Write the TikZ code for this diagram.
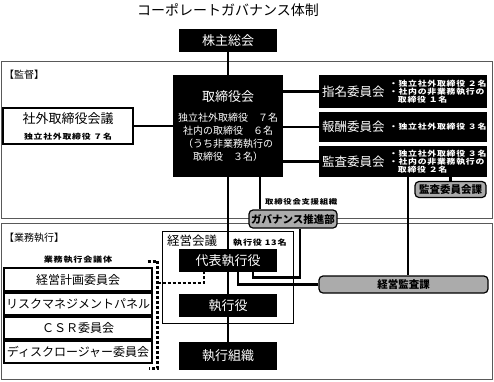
\documentclass[tikz,border=0pt]{standalone}
\usepackage{fontspec}
\setmainfont{Noto Sans CJK JP}
\newfontfamily\widejp[FakeStretch=1.2, LetterSpace=10]{Noto Sans CJK JP}
\usetikzlibrary{positioning}

\begin{document}
\begin{tikzpicture}[x=1pt, y=-1pt,
        blk/.style={rectangle, fill=black, text=white, inner sep=0pt,
            minimum width=98pt, minimum height=23pt,
            font=\fontsize{13}{15}\selectfont},
        wbox/.style={rectangle, draw=black, line width=1.2pt, fill=white,
            inner sep=0pt, minimum width=148pt, minimum height=22pt,
            font=\fontsize{12}{14}\selectfont},
        gbox/.style={rectangle, draw=black, line width=1.2pt, fill=black!33,
            rounded corners=4pt, inner sep=0pt, minimum height=17pt,
            font=\fontsize{10.5}{12}\selectfont\bfseries},
        cmte/.style={rectangle, fill=black, inner sep=0pt, minimum width=168pt},
        cname/.style={anchor=west, text=white, inner sep=0pt,
            font=\fontsize{12.5}{14}\selectfont},
        note/.style={inner sep=0pt, align=left,
            font=\widejp\bfseries\fontsize{7.4}{8.3}\selectfont},
        frm/.style={draw=black!65, line width=0.8pt},
        conn/.style={line width=2.6pt},
        dconn/.style={line width=2.4pt, dash pattern=on 3pt off 2pt}
      ]
      \useasboundingbox (0,0) rectangle (494,381);

      % Frames
      \draw[frm] (1,61)    rectangle (492,218);
      \draw[frm] (1,223)   rectangle (492,379);
      \draw[draw=black, line width=0.9pt] (162,231) rectangle (293,323);

      \node[font=\fontsize{14}{16}\selectfont] at (228,10) (title) {コーポレートガバナンス体制};
      \node[anchor=west, inner sep=0pt, font=\fontsize{10}{12}\selectfont] at (4,75)  (sup) {【監督】};
      \node[anchor=west, inner sep=0pt, font=\fontsize{10}{12}\selectfont] at (4,238) (exe) {【業務執行】};

      % Supervision
      \node[blk] at (228,40.5) (agm) {株主総会};
      \node[blk, minimum width=110pt, minimum height=102pt, align=center,
            font=\fontsize{10}{13}\selectfont] at (228,126) (board)
            {{\fontsize{13}{15}\selectfont 取締役会}\\[7pt]
             独立社外取締役　７名\\社内の取締役　６名\\（うち非業務執行の\\取締役　３名）};
      \node[wbox, minimum width=130pt, minimum height=36pt, align=center,
            font=\fontsize{13}{15}\selectfont] at (68,126) (outer)
            {社外取締役会議\\[1pt]{\widejp\bfseries\fontsize{7.4}{8}\selectfont 独立社外取締役 ７名}};

      % Committees
      \node[cmte, minimum height=33pt] at (403,91.5)  (nom) {};
      \node[cmte, minimum height=30pt] at (403,127)   (rem) {};
      \node[cmte, minimum height=31pt] at (403,161.5) (aud) {};
      \node[cname] at ([xshift=3pt]nom.west) (nomname) {指名委員会};
      \node[cname] at ([xshift=3pt]rem.west) (remname) {報酬委員会};
      \node[cname] at ([xshift=3pt]aud.west) (audname) {監査委員会};
      \node[note, text=white, anchor=west] at ([xshift=70pt]nom.west) (nomnote)
            {・独立社外取締役 ２名\\・社内の非業務執行の\\\phantom{・}取締役 １名};
      \node[note, text=white, anchor=west] at ([xshift=70pt]rem.west) (remnote)
            {・独立社外取締役 ３名};
      \node[note, text=white, anchor=west] at ([xshift=70pt]aud.west) (audnote)
            {・独立社外取締役 ３名\\・社内の非業務執行の\\\phantom{・}取締役 ２名};
      \node[gbox, minimum width=71pt, minimum height=16pt] at (450.5,189.5) (audsec) {監査委員会課};

      % Support organisation, across both frames
      \node[gbox, minimum width=88pt, minimum height=18pt] at (293,219) (gov) {ガバナンス推進部};
      \node[note, anchor=west, font=\widejp\bfseries\fontsize{7}{8}\selectfont] at (265,202) (govlbl) {取締役会支援組織};

      % Execution
      \node[anchor=west, inner sep=0pt, font=\fontsize{12.5}{14}\selectfont] at (167,241) (mtg) {経営会議};
      \node[note, anchor=west, font=\widejp\bfseries\fontsize{7.6}{8}\selectfont] at (233,243) (mtgnote) {執行役 13名};
      \node[blk] at (228,260.5) (ceo)  {代表執行役};
      \node[blk] at (228,305.5) (exec) {執行役};
      \node[blk, minimum height=28pt] at (228,356) (org) {執行組織};
      \node[gbox, minimum width=169pt] at (403.5,284.5) (iaud) {経営監査課};

      % Business execution bodies
      \node[note, font=\widejp\bfseries\fontsize{7.6}{8}\selectfont] at (78,260) (bodylbl) {業務執行会議体};
      \node[wbox, minimum height=23pt] at (78,279.5) (plan) {経営計画委員会};
      \node[wbox] at (78,304) (risk) {リスクマネジメントパネル};
      \node[wbox] at (78,328) (csr)  {ＣＳＲ委員会};
      \node[wbox] at (78,352) (disc) {ディスクロージャー委員会};

      % Connectors
      \draw[conn] (agm)   -- (board);
      \draw[conn] (outer) -- (board);
      \draw[conn] (board.east |- nom) -- (nom);
      \draw[conn] (board.east |- rem) -- (rem);
      \draw[conn] (board.east |- aud) -- (aud);
      \draw[conn] (aud.south -| audsec) -- (audsec);
      \draw[conn] ([xshift=32pt]board.south) -- ([xshift=32pt]board.south |- gov.north);
      \draw[conn] (board) -- (ceo);
      \draw[conn] (ceo)   -- (exec);
      \draw[conn] (exec)  -- (org);
      \draw[conn] ([xshift=7pt]gov.south) |- ([xshift=25pt, yshift=-5pt]ceo.south) -- ([xshift=25pt]ceo.south);
      \draw[conn] ([xshift=5pt]aud.south) -- ([xshift=5pt]aud.south |- iaud.north);
      \draw[conn] (iaud.west) -| ([xshift=10pt]ceo.south);

      % Dashed bracket round the bodies
      \coordinate (brtop) at ([xshift=-5pt, yshift=6pt]plan.north east);
      \coordinate (brbot) at ([xshift=-4pt, yshift=-5pt]disc.south east);
      \coordinate (brmid) at ([xshift=5pt, yshift=-3.5pt]plan.east);
      \draw[dconn] (brtop) -- ++(10,0) |- (brbot);
      \draw[dconn] (brmid) -| ([xshift=-24pt]ceo.south);
    \end{tikzpicture}
\end{document}
